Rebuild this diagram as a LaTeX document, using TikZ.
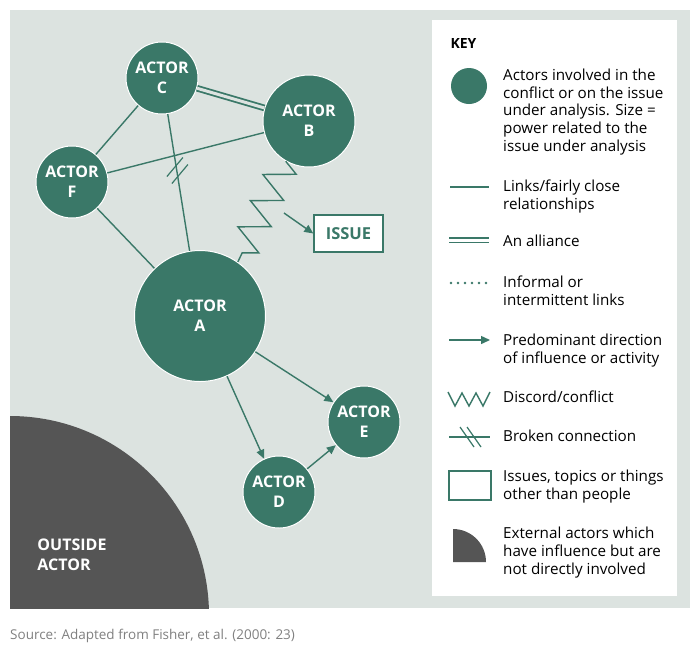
\documentclass[tikz,border=0pt]{standalone}
\usepackage{fontspec}
\setmainfont{Open Sans}
\usetikzlibrary{positioning,decorations.pathmorphing,arrows.meta}
\definecolor{teal}{HTML}{3A7868}
\definecolor{panel}{HTML}{DCE3E0}
\definecolor{outside}{HTML}{555555}
\begin{document}
\begin{tikzpicture}[
    x=1pt,y=-1pt,
    actor/.style={circle,fill=teal,draw=white,line width=1pt,text=white,
      font=\fontsize{16}{20}\selectfont\bfseries,align=center,inner sep=0pt,minimum size=#1},
    link/.style={teal,line width=1.4pt},
    alliance/.style={teal,double=#1,double distance=3pt,line width=1.8pt},
    infl/.style={link,-{Triangle[length=9pt,width=8pt]}},
    keytext/.style={anchor=north west,align=left,font=\fontsize{15.2}{17.8}\selectfont,inner sep=0pt}
]
  \useasboundingbox (0,0) rectangle (700,654);
  \fill[panel] (10,10) rectangle (690,608);
  % outside actor
  \begin{scope}
    \clip (10,10) rectangle (690,608);
    \fill[outside] (10,615) circle (199);
  \end{scope}
  \node[text=white,font=\fontsize{16}{20}\selectfont\bfseries,align=left] (outside) at (72,555) {OUTSIDE\\ACTOR};

  % actors
  \node[actor=72pt] (C) at (162,78) {ACTOR\\C};
  \node[actor=92pt] (B) at (309,121) {ACTOR\\B};
  \node[actor=72pt] (F) at (72,182) {ACTOR\\F};
  \node[actor=131pt] (A) at (200,316) {ACTOR\\A};
  \node[actor=72pt] (E) at (364,422) {ACTOR\\E};
  \node[actor=72pt] (D) at (279,492) {ACTOR\\D};
  \node[draw=teal,line width=1.4pt,fill=white,text=teal,minimum width=69pt,minimum height=37pt,
    font=\fontsize{16.5}{18}\selectfont\bfseries] (issue) at (348.5,233.5) {ISSUE};

  % links
  \draw[link] (C) -- (F);
  \draw[link] (F) -- (B);
  \draw[link] (F) -- (A);
  \draw[link] (C) -- (A) coordinate[pos=0.42] (brk);
  \draw[teal,line width=1.2pt] ([shift={(-10,5)}]brk) -- ([shift={(6,-14)}]brk)
    ([shift={(-5,12)}]brk) -- ([shift={(11,-7)}]brk);
  \draw[alliance=panel] (C) -- (B);
  \draw[link,decorate,decoration={zigzag,segment length=29pt,amplitude=15pt}] (B.240) -- (A.55);
  \coordinate (ar) at (284,213);
  \draw[infl] (ar) -- (issue.west);
  \draw[infl] (A) -- (E);
  \draw[infl] (A) -- (D);
  \draw[infl] (D) -- (E);

  % key
  \fill[white] (432,20) rectangle (677,596);
  \node[anchor=west,font=\fontsize{14}{15}\selectfont\bfseries] (key) at (447,43) {KEY};
  \fill[teal] (469,86) circle (18);
  \node[keytext] (k1) at (503,68.5) {Actors involved in the\\conflict or on the issue\\under analysis. Size =\\power related to the\\issue under analysis};
  \draw[link] (450,187) -- (489,187);
  \node[keytext] (k2) at (503,180) {Links/fairly close\\relationships};
  \draw[alliance=white] (449,240) -- (489,240);
  \node[keytext] (k3) at (503,235) {An alliance};
  \draw[teal,line width=2.8pt,line cap=round,dash pattern=on 0pt off 7pt] (451,283) -- (489,283);
  \node[keytext] (k4) at (503,276) {Informal or\\intermittent links};
  \draw[infl] (449,340) -- (490,340);
  \node[keytext] (k5) at (503,334) {Predominant direction\\of influence or activity};
  \draw[link] (448,392) -- (455,406) -- (462,393) -- (469,406) -- (476,393) -- (483,406) -- (490,392);
  \node[keytext] (k6) at (503,391) {Discord/conflict};
  \draw[link] (449,437) -- (490,437);
  \draw[teal,line width=1.2pt] (460,427) -- (474,447) (467,427) -- (481,447);
  \node[keytext] (k7) at (503,430) {Broken connection};
  \draw[teal,line width=1.4pt] (449,471) rectangle (491,500);
  \node[keytext] (k8) at (503,470) {Issues, topics or things\\other than people};
  \fill[outside] (453,562) -- (453,529) arc[start angle=-90,end angle=0,radius=33] -- cycle;
  \node[keytext] (k9) at (503,527) {External actors which\\have influence but are\\not directly involved};

  \node[anchor=west,inner sep=0pt,text=gray,font=\fontsize{13.5}{15}\selectfont] (src) at (10,636) {Source: Adapted from Fisher, et al. (2000: 23)};
\end{tikzpicture}
\end{document}
